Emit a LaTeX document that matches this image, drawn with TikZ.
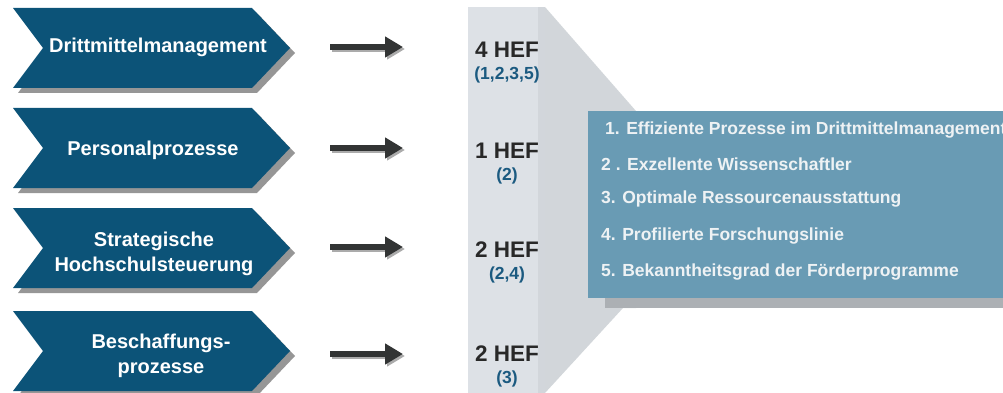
\documentclass[tikz,border=0pt]{standalone}
\usepackage{fontspec}
\setmainfont{Liberation Sans}
\usetikzlibrary{arrows.meta}
\definecolor{chevblue}{RGB}{12,83,120}
\definecolor{chevshadow}{RGB}{150,150,150}
\definecolor{colgray}{RGB}{221,225,230}
\definecolor{coledge}{RGB}{210,214,219}
\definecolor{trapgray}{RGB}{210,214,218}
\definecolor{boxblue}{RGB}{105,155,180}
\definecolor{boxshadow}{RGB}{172,176,180}
\definecolor{boxtext}{RGB}{238,242,244}
\definecolor{heftext}{RGB}{40,40,40}
\definecolor{parentext}{RGB}{27,90,128}
\definecolor{arrowgray}{RGB}{50,52,52}
\tikzset{
  chevtext/.style={text=white,font={\bfseries\fontsize{20}{25}\selectfont},inner sep=0pt,anchor=base,align=center},
  heflabel/.style={text=heftext,font={\bfseries\fontsize{22.5}{26}\selectfont},inner sep=0pt,anchor=base},
  hefnum/.style={text=parentext,font={\bfseries\fontsize{17.5}{20}\selectfont},inner sep=0pt,anchor=base},
  listitem/.style={text=boxtext,font={\bfseries\fontsize{17.5}{21}\selectfont},inner sep=0pt,anchor=base west},
  flowarrow/.style={draw=arrowgray,line width=6pt,-{Triangle[length=18pt,width=20pt]}},
  flowshadow/.style={draw=chevshadow!80,line width=6pt,-{Triangle[length=18pt,width=20pt]}}
}
\begin{document}
\begin{tikzpicture}[x=1pt,y=-1pt]
\useasboundingbox (0,0) rectangle (1003,393);
% chevrons
\foreach \t in {8,108,208,311}{
  \fill[chevshadow,shift={(5,5)}] (13,\t) -- (252,\t) -- (290,\t+40) -- (252,\t+80) -- (13,\t+80) -- (43,\t+40) -- cycle;
  \fill[chevblue] (13,\t) -- (252,\t) -- (290,\t+40) -- (252,\t+80) -- (13,\t+80) -- (43,\t+40) -- cycle;
}
\node[chevtext] (c1) at (158,53) {Drittmittelmanagement};
\node[chevtext] (c2) at (153,155) {Personalprozesse};
\node[chevtext] (c3) at (154,271) {Strategische\\Hochschulsteuerung};
\node[chevtext] (c4) at (161,373) {Beschaffungs-\\prozesse};
% arrows
\foreach \i/\y in {1/47,2/148,3/247,4/354}{
  \coordinate (a\i s) at (330,\y);
  \coordinate (a\i e) at (403,\y);
  \coordinate (a\i ss) at (332,\y+2);
  \coordinate (a\i se) at (405,\y+2);
  \draw[flowshadow] (a\i ss) -- (a\i se);
  \draw[flowarrow] (a\i s) -- (a\i e);
}
% connecting trapezoid
\fill[trapgray] (545,7) -- (636,111) -- (636,308) -- (623,308) -- (545,393) -- cycle;
% column
\fill[colgray] (468,7) rectangle (545,393);
\fill[coledge] (538,7) rectangle (545,393);
% box shadow and box
\fill[boxshadow] (605,292) rectangle (1010,308);
\fill[boxblue] (588,111) rectangle (1010,298);
% HEF labels
\node[heflabel] (h1) at (507,57.5) {4 HEF};
\node[hefnum] (p1) at (507,79.5) {(1,2,3,5)};
\node[heflabel] (h2) at (507,158) {1 HEF};
\node[hefnum] (p2) at (507,180) {(2)};
\node[heflabel] (h3) at (507,257) {2 HEF};
\node[hefnum] (p3) at (507,279) {(2,4)};
\node[heflabel] (h4) at (507,361.5) {2 HEF};
\node[hefnum] (p4) at (507,383.5) {(3)};
% list
\node[listitem] (l1) at (605,135) {1. Effiziente Prozesse im Drittmittelmanagement};
\node[listitem] (l2) at (601,170) {2 . Exzellente Wissenschaftler};
\node[listitem] (l3) at (601,203) {3. Optimale Ressourcenausstattung};
\node[listitem] (l4) at (601,240) {4. Profilierte Forschungslinie};
\node[listitem] (l5) at (601,276) {5. Bekanntheitsgrad der Förderprogramme};
\end{tikzpicture}
\end{document}
